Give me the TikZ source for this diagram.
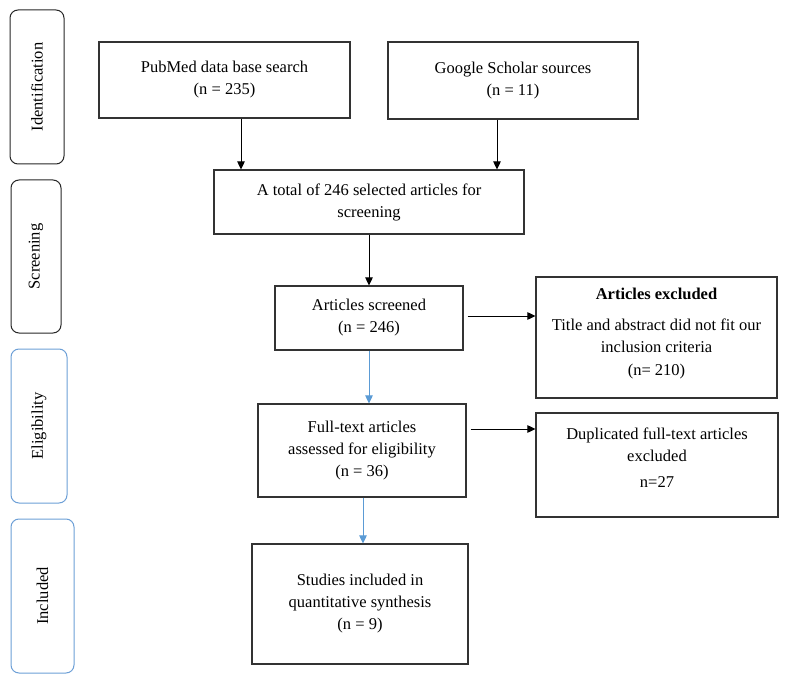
\documentclass[tikz,border=0pt]{standalone}
\usepackage{fontspec}
\setmainfont{Liberation Serif}
\usetikzlibrary{arrows.meta,calc}
\definecolor{flowblue}{HTML}{5B9BD5}
\definecolor{stageblue}{HTML}{6C9FD6}
\begin{document}
\begin{tikzpicture}[x=1pt,y=-1pt,
  every node/.style={font=\fontsize{16.5}{22}\selectfont},
  box/.style={draw=black!80,line width=1.1pt,align=center,inner sep=0pt},
  stage/.style={draw=black!85,line width=1pt,rounded corners=8pt,inner sep=0pt},
  bstage/.style={stage,draw=stageblue},
  arr/.style={-{Triangle[length=8pt,width=7.5pt]},line width=0.9pt,black},
  barr/.style={-{Triangle[length=8pt,width=7.5pt]},line width=0.9pt,flowblue}]
\useasboundingbox (0,0) rectangle (789,684);
% stage boxes
\node[stage,minimum width=54,minimum height=154] (ident) at (37,87) {};
\node[rotate=90] (identt) at (ident.center) {Identification};
\node[stage,minimum width=50,minimum height=153] (screen) at (36,256.5) {};
\node[rotate=90] (screent) at (screen.center) {Screening};
\node[bstage,minimum width=56,minimum height=154] (elig) at (39,426) {};
\node[rotate=90] (eligt) at (elig.center) {Eligibility};
\node[bstage,minimum width=63,minimum height=154] (incl) at (42.5,596) {};
\node[rotate=90] (inclt) at (incl.center) {Included};
% flow boxes
\node[box,minimum width=251,minimum height=76] (pubmed) at (224.5,80) {PubMed data base search\\(n = 235)};
\node[box,minimum width=250,minimum height=77] (google) at (513,80.5) {Google Scholar sources\\(n = 11)};
\node[box,minimum width=310,minimum height=64] (total) at (369,202) {A total of 246 selected articles for\\screening};
\node[box,minimum width=188,minimum height=64] (screened) at (369,318) {Articles screened\\(n = 246)};
\node[box,minimum width=241,minimum height=121] (excl) at (656.5,337.5) {};
\node[align=center] (exclt) at (656.5,334) {\textbf{Articles excluded}\\[9pt]Title and abstract did not fit our\\inclusion criteria\\[1pt](n= 210)};
\node[box,minimum width=242,minimum height=104] (dup) at (657,465) {};
\node[align=center] (dupt) at (657,458) {Duplicated full-text articles\\excluded\\[4pt]n=27};
\node[box,minimum width=208,minimum height=93] (full) at (362,450.5) {Full-text articles\\assessed for eligibility\\(n = 36)};
\node[box,minimum width=216,minimum height=120] (study) at (360,604) {Studies included in\\quantitative synthesis\\(n = 9)};
% connectors
\draw[arr] (pubmed.south -| 241,0) -- (total.north -| 241,0);
\draw[arr] (google.south -| 497,0) -- (total.north -| 497,0);
\draw[arr] (total.south) -- (screened.north);
\draw[arr] ($(screened.east)+(4,-2)$) -- (excl.west |- 0,316);
\draw[barr] (screened.south) -- (screened.south |- full.north);
\draw[arr] ($(full.east |- 0,429)+(4,0)$) -- (dup.west |- 0,429);
\draw[barr] (full.south -| 363,0) -- (study.north -| 363,0);
\end{tikzpicture}
\end{document}
